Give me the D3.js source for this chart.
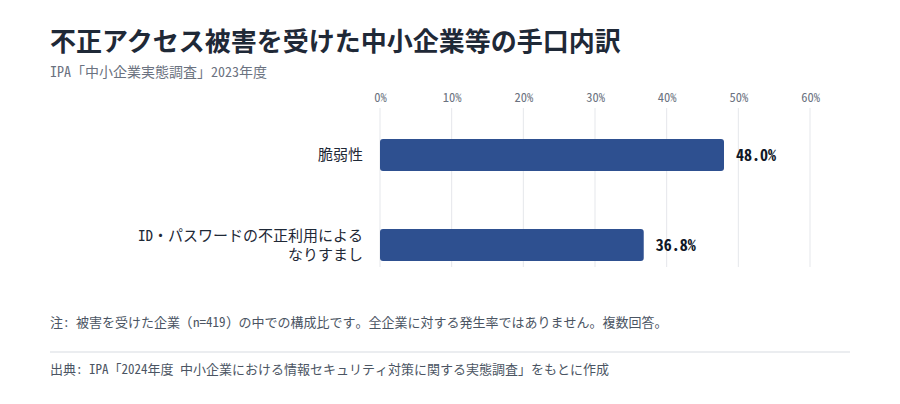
<!DOCTYPE html>
<html>
<head>
<meta charset="utf-8">
<script src="https://cdn.jsdelivr.net/npm/d3@7"></script>
<style>
  body { margin: 0; background: #fff; }
  svg text { font-family: "Noto Sans Mono CJK JP", "Noto Sans CJK JP", "DejaVu Sans Mono", monospace; }
</style>
</head>
<body>
<div id="vis1"></div>
<script>
// 不正アクセス被害の手口内訳

const FRAME_HEIGHT = 404;
const FRAME_WIDTH = 900;
const MARGINS = {left: 380, right: 90, top: 108, bottom: 140};

const categories = [["脆弱性"], ["ID・パスワードの不正利用による", "なりすまし"]];
const values = [48.0, 36.8];
const ticks = [0, 10, 20, 30, 40, 50, 60];

const FRAME = d3.select("#vis1")
  .append("svg")
    .attr("width", FRAME_WIDTH)
    .attr("height", FRAME_HEIGHT);

// title
FRAME.append("text")
  .attr("x", 50).attr("y", 51)
  .attr("font-size", 26).attr("font-weight", "bold")
  .attr("fill", "#1f2937")
  .style("font-family", "'Noto Sans CJK JP', sans-serif")
  .text("不正アクセス被害を受けた中小企業等の手口内訳");

FRAME.append("text")
  .attr("x", 50).attr("y", 77)
  .attr("font-size", 14).attr("fill", "#6b7280")
  .text("IPA「中小企業実態調査」2023年度");

// scales
const X_SCALE = d3.scaleLinear()
  .domain([0, 60])
  .range([MARGINS.left, 810]);

const Y_SCALE = d3.scaleBand()
  .domain(d3.range(values.length))
  .range([94, 306])
  .paddingInner(0.644)
  .paddingOuter(0.5);

// grid
FRAME.selectAll(".grid")
  .data(ticks)
  .enter()
  .append("line")
    .attr("x1", d => X_SCALE(d)).attr("x2", d => X_SCALE(d))
    .attr("y1", 108).attr("y2", 267)
    .attr("stroke", "#e5e7eb").attr("stroke-width", 1);

// axis labels on top
const x_axis = d3.axisTop(X_SCALE)
  .tickValues(ticks)
  .tickFormat(d => d + "%")
  .tickSize(0)
  .tickPadding(0);

FRAME.append("g")
  .attr("transform", "translate(0,102)")
  .call(x_axis)
  .call(g => g.select(".domain").remove())
  .selectAll("text")
    .attr("font-size", 12.5)
    .attr("fill", "#6b7280")
    .style("font-family", "'Noto Sans Mono CJK JP', 'DejaVu Sans Mono', monospace");

// bars
FRAME.selectAll(".bar")
  .data(values)
  .enter()
  .append("rect")
    .attr("x", X_SCALE(0))
    .attr("y", (d, i) => Y_SCALE(i))
    .attr("width", d => X_SCALE(d) - X_SCALE(0))
    .attr("height", Y_SCALE.bandwidth())
    .attr("rx", 3)
    .attr("fill", "#2e5090");

// value labels
FRAME.selectAll(".val")
  .data(values)
  .enter()
  .append("text")
    .attr("x", d => X_SCALE(d) + 12)
    .attr("y", (d, i) => Y_SCALE(i) + Y_SCALE.bandwidth() / 2)
    .attr("dy", "0.36em")
    .attr("font-size", 16).attr("font-weight", "bold")
    .attr("fill", "#111827")
    .text(d => d.toFixed(1) + "%");

// category labels, one text per line
const catGroups = FRAME.selectAll(".cat")
  .data(categories)
  .enter()
  .append("g")
    .attr("transform", (d, i) =>
      "translate(363," + (Y_SCALE(i) + Y_SCALE.bandwidth() / 2 - (d.length - 1) * 9.5) + ")");

catGroups.selectAll("text")
  .data(d => d)
  .enter()
  .append("text")
    .attr("text-anchor", "end")
    .attr("font-size", 15)
    .attr("fill", "#1f2937")
    .attr("y", (d, i) => i * 19)
    .attr("dy", "0.36em")
    .text(d => d);

// note, divider, source
FRAME.append("text")
  .attr("x", 50).attr("y", 327)
  .attr("font-size", 13).attr("fill", "#4b5563")
  .text("注: 被害を受けた企業 (n=419) の中での構成比です。全企業に対する発生率ではありません。複数回答。");

FRAME.append("line")
  .attr("x1", 50).attr("x2", 850)
  .attr("y1", 352).attr("y2", 352)
  .attr("stroke", "#e5e7eb").attr("stroke-width", 1.5);

FRAME.append("text")
  .attr("x", 50).attr("y", 374)
  .attr("font-size", 13).attr("fill", "#4b5563")
  .text("出典: IPA「2024年度 中小企業における情報セキュリティ対策に関する実態調査」をもとに作成");
</script>
</body>
</html>
